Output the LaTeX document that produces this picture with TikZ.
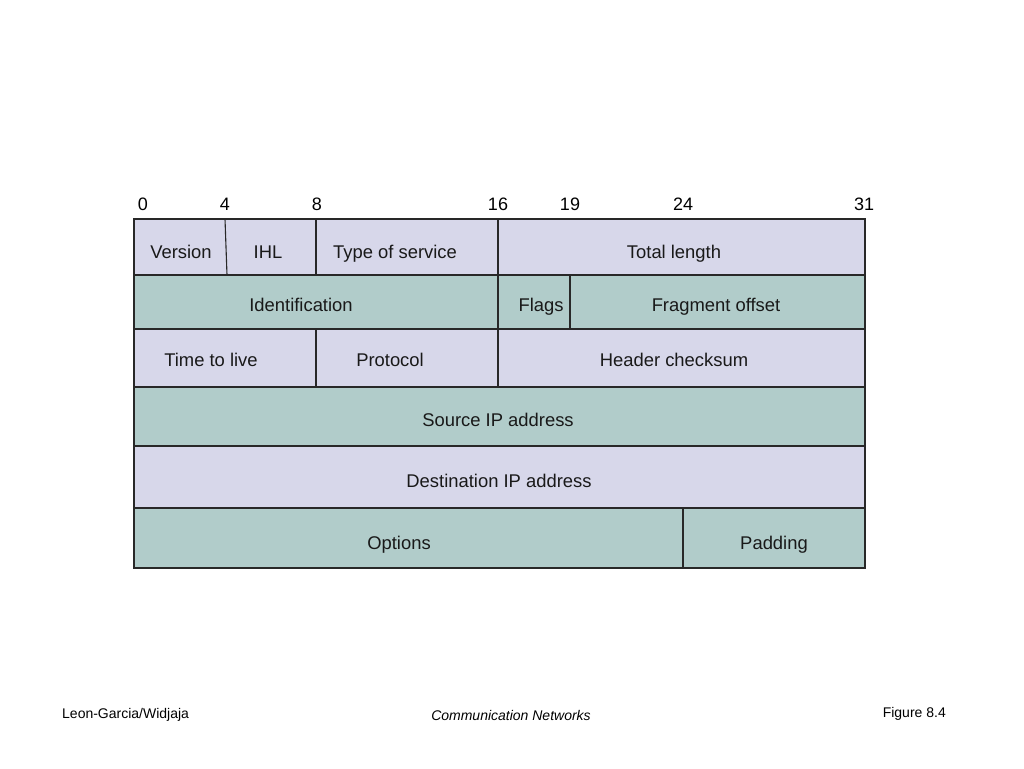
\documentclass[tikz,border=0pt]{standalone}
\usepackage{fontspec}
\setmainfont{Liberation Sans}
\definecolor{lav}{RGB}{215,215,234}
\definecolor{teal2}{RGB}{177,204,202}
\definecolor{edge}{RGB}{40,40,40}
\begin{document}
\begin{tikzpicture}[x=1pt,y=-1pt,
  cellA/.style={fill=lav,draw=edge,line width=1.1pt},
  cellB/.style={fill=teal2,draw=edge,line width=1.1pt},
  sep/.style={draw=edge,line width=1.1pt},
  lbl/.style={font=\fontsize{18.4}{21}\selectfont,inner sep=0pt,text height=13pt,text depth=0pt,text=black!90},
  bit/.style={font=\fontsize{18}{21}\selectfont,inner sep=0pt,text height=13pt,text depth=0pt},
  foot/.style={font=\fontsize{14}{16}\selectfont,inner sep=0pt,text height=10pt,text depth=0pt}]
\useasboundingbox[fill=white] (0,0) rectangle (1024,768);
% row 1
\draw[cellA] (134,219) rectangle (865,275);
\draw[sep] (225,219) -- (227,275);
\draw[sep] (316,219) -- (316,275);
\draw[sep] (498,219) -- (498,275);
% row 2
\draw[cellB] (134,275) rectangle (865,329);
\draw[sep] (498,275) -- (498,329);
\draw[sep] (570,275) -- (570,329);
% row 3
\draw[cellA] (134,329) rectangle (865,387);
\draw[sep] (316,329) -- (316,387);
\draw[sep] (498,329) -- (498,387);
% row 4
\draw[cellB] (134,387) rectangle (865,446);
% row 5
\draw[cellA] (134,446) rectangle (865,508);
% row 6
\draw[cellB] (134,508) rectangle (865,568);
\draw[sep] (683,508) -- (683,568);
% bit numbers
\node[bit] (b0) at (143,204) {0};
\node[bit] (b4) at (225,204) {4};
\node[bit] (b8) at (317,204) {8};
\node[bit] (b16) at (498,204) {16};
\node[bit] (b19) at (570,204) {19};
\node[bit] (b24) at (683,204) {24};
\node[bit] (b31) at (864,204) {31};
% labels
\node[lbl] (ver) at (181,252) {Version};
\node[lbl] (ihl) at (268,252) {IHL};
\node[lbl] (tos) at (395,252) {Type of service};
\node[lbl] (tl) at (674,252) {Total length};
\node[lbl] (id) at (301,305) {Identification};
\node[lbl] (fl) at (541,305) {Flags};
\node[lbl] (fo) at (716,305) {Fragment offset};
\node[lbl] (ttl) at (211,360) {Time to live};
\node[lbl] (pr) at (390,360) {Protocol};
\node[lbl] (hc) at (674,360) {Header checksum};
\node[lbl] (src) at (498,420) {Source IP address};
\node[lbl] (dst) at (499,481) {Destination IP address};
\node[lbl] (opt) at (399,543) {Options};
\node[lbl] (pad) at (774,543) {Padding};
% footer
\node[foot,anchor=west] (auth) at (62,713) {Leon-Garcia/Widjaja};
\node[foot] (book) at (511,715) {\itshape Communication Networks};
\node[foot,anchor=east] (fig) at (946,712) {Figure 8.4};
\end{tikzpicture}
\end{document}
